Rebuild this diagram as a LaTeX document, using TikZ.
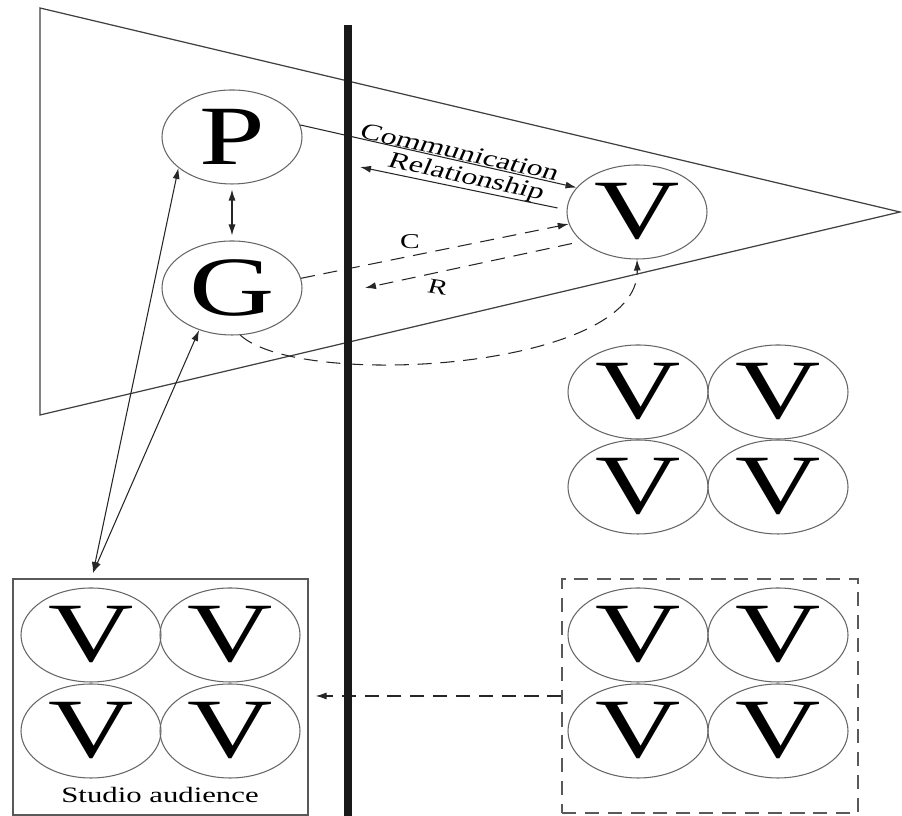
\documentclass[tikz,border=0pt]{standalone}
\usepackage{fontspec}
\setmainfont{Liberation Serif}
\usepackage{graphicx}
\usetikzlibrary{shapes.geometric,arrows.meta}
\newcommand{\widetext}[1]{\scalebox{1.4}[1]{#1}}

\begin{document}
\begin{tikzpicture}[
  who/.style={ellipse, draw=black!60, line width=0.6pt, minimum width=2.8cm, minimum height=1.88cm, inner sep=0pt, font=\fontsize{48}{48}\selectfont},
  flow/.style={line width=0.6pt, black!85},
  onehead/.style={-{Latex[length=2.2mm,width=1.4mm]}},
  twohead/.style={{Latex[length=2.2mm,width=1.4mm]}-{Latex[length=2.2mm,width=1.4mm]}},
  brokenline/.style={dash pattern=on 8pt off 5pt},
  lbl/.style={inner sep=0pt, font=\fontsize{13}{13}\selectfont},
]
\useasboundingbox (0,0) rectangle (18.04,16.32);
\draw[line width=0.7pt, black!75] (0.8,16.16) -- (18.0,12.08) -- (0.8,8.02) -- cycle;

\node[who] at (4.64,13.58) (P) {\widetext{P}};
\node[who] at (4.64,10.56) (G) {\widetext{G}};
\node[who] at (12.74,12.08) (V) {\widetext{V}};

\node[who] at (12.76,8.48) (v1) {\widetext{V}};
\node[who] at (15.56,8.48) (v2) {\widetext{V}};
\node[who] at (12.76,6.58) (v3) {\widetext{V}};
\node[who] at (15.56,6.58) (v4) {\widetext{V}};

\node[draw=black!65, line width=0.7pt, minimum width=5.9cm, minimum height=4.72cm] at (3.21,2.38) (studio) {};
\node[who] at (1.82,3.62) (s1) {\widetext{V}};
\node[who] at (4.60,3.62) (s2) {\widetext{V}};
\node[who] at (1.82,1.70) (s3) {\widetext{V}};
\node[who] at (4.60,1.70) (s4) {\widetext{V}};
\node[lbl, font=\fontsize{12.5}{12.5}\selectfont] at (3.2,0.42) (aud) {\widetext{Studio audience}};

\node[draw=black!65, line width=0.7pt, brokenline, minimum width=5.92cm, minimum height=4.68cm] at (14.2,2.4) (crowd) {};
\node[who] at (12.76,3.62) (d1) {\widetext{V}};
\node[who] at (15.56,3.62) (d2) {\widetext{V}};
\node[who] at (12.76,1.70) (d3) {\widetext{V}};
\node[who] at (15.56,1.70) (d4) {\widetext{V}};

\coordinate (rel) at (7.2,12.98);
\coordinate (back) at (7.3,10.56);
\coordinate (meet) at (1.86,4.86);

\draw[flow, twohead, shorten <=1mm, shorten >=1mm] (P) -- (G);
\draw[flow, onehead] (P.10) -- (V.158);
\draw[flow, onehead] ([shift={(-0.18,0.08)}]V.west) -- (rel);
\draw[flow, onehead, brokenline] (G.8) -- (V.190);
\draw[flow, onehead, brokenline, shorten <=2mm] (V.208) -- (back);
\draw[flow, onehead, brokenline] (G.-80) .. controls (6.0,8.52) and (12.8,8.92) .. (V.south);
\draw[flow, twohead] (meet) -- (P.210);
\draw[flow, twohead] (meet) -- (G.232);
\draw[flow, onehead, brokenline, shorten >=1.4mm] (crowd.west) -- (crowd.west -| studio.east);

\node[lbl] at (9.2,13.28) (comm) {\widetext{\rotatebox{-17}{Communication}}};
\node[lbl] at (9.32,12.76) (rship) {\widetext{\rotatebox{-17}{Relationship}}};
\node[lbl, font=\fontsize{12}{12}\selectfont] at (8.2,11.48) (c) {\widetext{C}};
\node[lbl, font=\fontsize{12}{12}\selectfont] at (8.76,10.58) (r) {\widetext{\rotatebox{-12}{R}}};

\draw[line width=4.5pt, black!90] (6.96,0) -- (6.96,15.82);
\end{tikzpicture}
\end{document}
